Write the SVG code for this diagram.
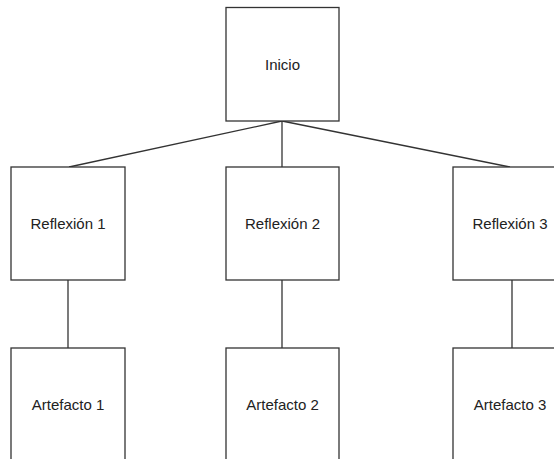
<svg xmlns="http://www.w3.org/2000/svg" width="554" height="459" viewBox="0 0 554 459">
<style>
.box{fill:#fff;stroke:#333;stroke-width:1.3}
.lbl{font-family:"Liberation Sans",Arial,sans-serif;font-size:15px;fill:#222;text-anchor:middle;dominant-baseline:central}
.con{stroke:#333;stroke-width:1.3;fill:none}
</style>
<rect width="554" height="459" fill="#fff"/>
<g id="connectors">
<line class="con" x1="282" y1="121" x2="69" y2="167"/>
<line class="con" x1="282" y1="121" x2="282" y2="167"/>
<line class="con" x1="282" y1="121" x2="510" y2="167"/>
<line class="con" x1="68" y1="280" x2="68" y2="348"/>
<line class="con" x1="282" y1="280" x2="282" y2="348"/>
<line class="con" x1="512" y1="280" x2="512" y2="348"/>
</g>
<g id="inicio"><rect class="box" x="226" y="7.5" width="113" height="113.5"/><text class="lbl" x="282.5" y="64">Inicio</text></g>
<g id="reflexion1"><rect class="box" x="11" y="167" width="114" height="113"/><text class="lbl" x="68" y="223.5">Reflexión 1</text></g>
<g id="reflexion2"><rect class="box" x="226" y="167" width="113" height="113"/><text class="lbl" x="282.5" y="223.5">Reflexión 2</text></g>
<g id="reflexion3"><rect class="box" x="453" y="167" width="114" height="113"/><text class="lbl" x="510" y="223.5">Reflexión 3</text></g>
<g id="artefacto1"><rect class="box" x="11" y="348" width="114" height="114"/><text class="lbl" x="68" y="404.5">Artefacto 1</text></g>
<g id="artefacto2"><rect class="box" x="226" y="348" width="113" height="114"/><text class="lbl" x="282.5" y="404.5">Artefacto 2</text></g>
<g id="artefacto3"><rect class="box" x="453" y="348" width="114" height="114"/><text class="lbl" x="510" y="404.5">Artefacto 3</text></g>
</svg>
